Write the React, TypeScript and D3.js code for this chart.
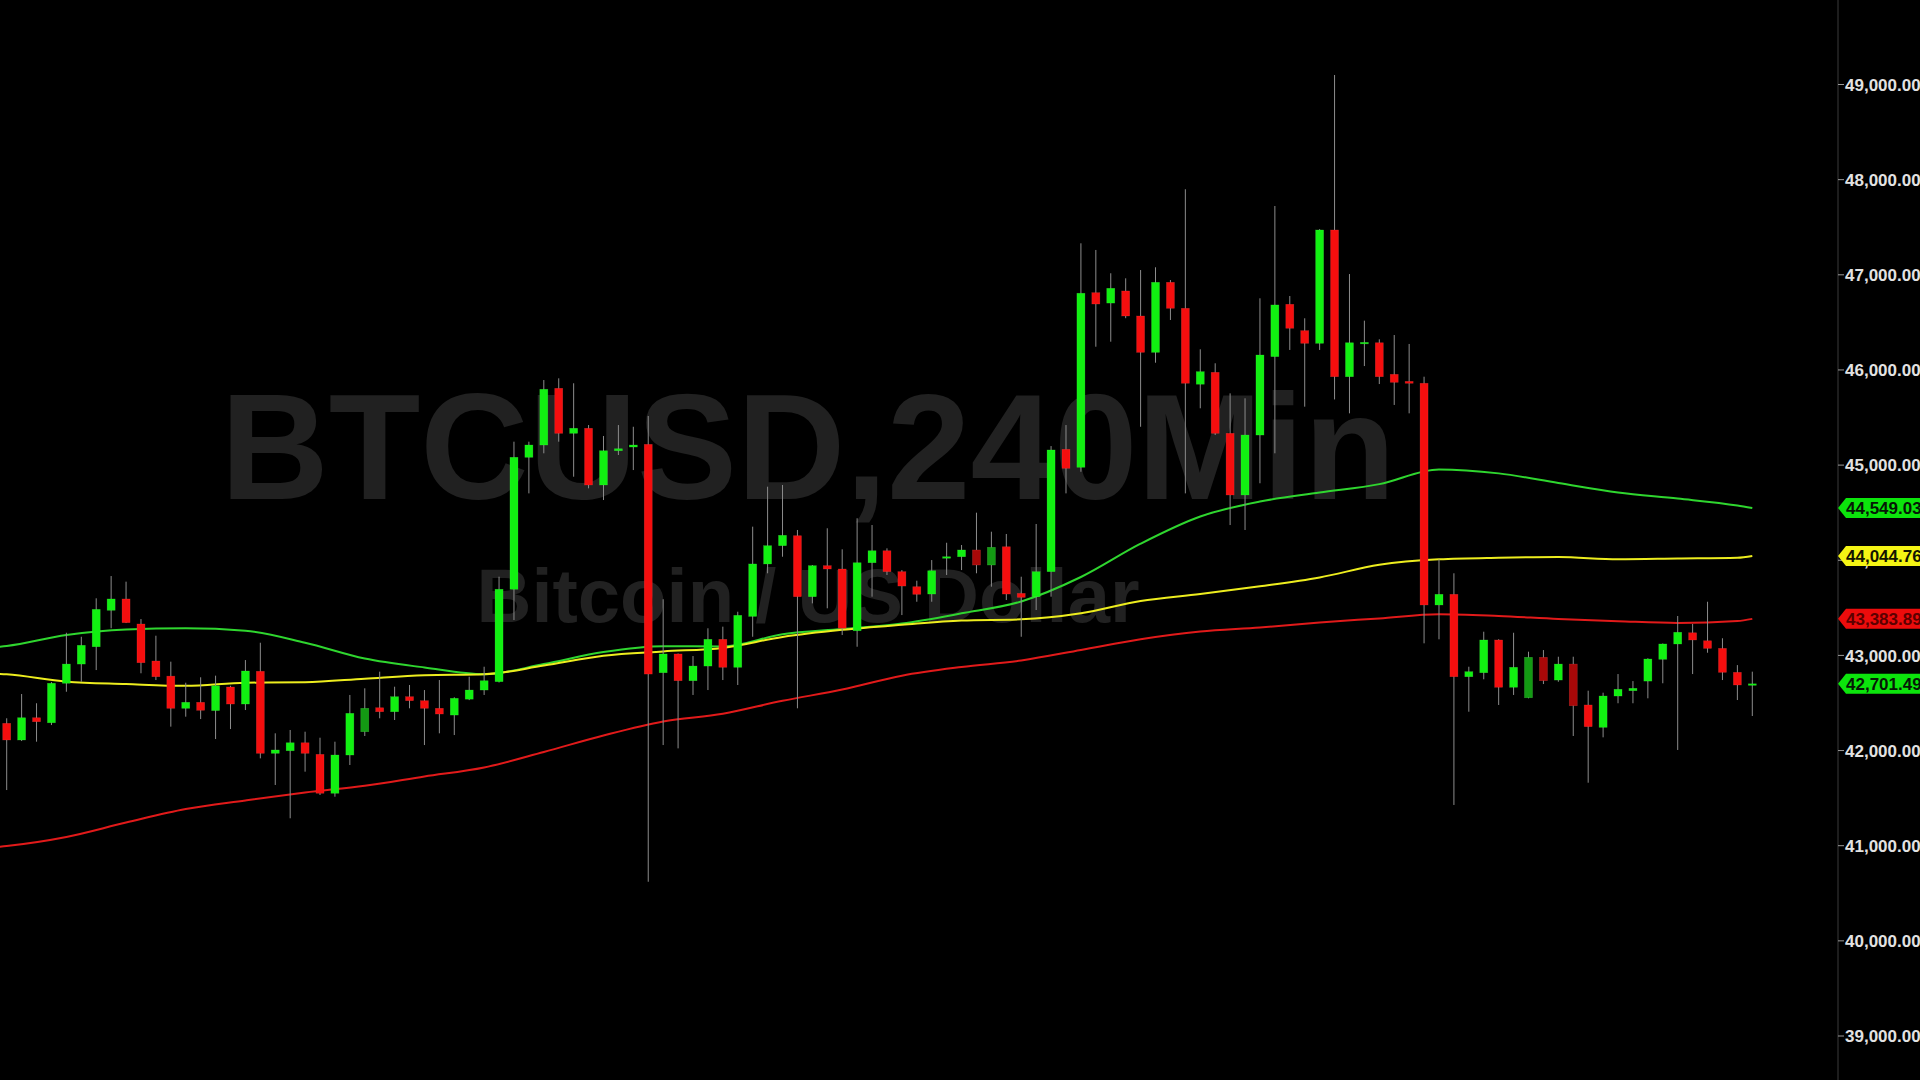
import React from "react";
import * as d3 from "d3";

const W = 1920;
const H = 1080;

// 4h candles
const opens = [
  42286, 42111, 42345, 42292, 42707, 42909, 43091, 43474, 43593, 43330,
  42941, 42782, 42444, 42507, 42420, 42668, 42489, 42833, 41971, 41998,
  42082, 41960, 41551, 41953, 42198, 42450, 42408, 42566, 42524, 42444,
  42373, 42540, 42636, 42724, 43695, 45082, 45211, 45807, 45334, 45387,
  44791, 45151, 45190, 45218, 42818, 43015, 42734, 42888, 43169, 42875,
  43410, 43961, 44153, 44258, 43617, 43943, 43908, 43259, 43974, 44100,
  43880, 43722, 43645, 44021, 44037, 44108, 43950, 44142, 43652, 43617,
  43880, 45166, 44977, 46812, 46703, 46830, 46567, 46185, 46921, 46648,
  45850, 45975, 45334, 44686, 45316, 46140, 46690, 46413, 46280, 47471,
  45929, 46280, 46286, 45954, 45880, 45860, 43530, 43642, 42776, 42818,
  43162, 42665, 42555, 42980, 42741, 42909, 42479, 42244, 42573, 42629,
  42730, 42959, 43120, 43238, 43154, 43074, 42822, 42690,
];
const highs = [
  42339, 42594, 42497, 42720, 43238, 43196, 43600, 43834, 43775, 43382,
  43207, 42934, 42713, 42770, 42787, 42681, 42951, 43133, 42181, 42216,
  42198, 42135, 42093, 42584, 42654, 42829, 42671, 42689, 42636, 42741,
  42560, 42776, 42881, 43827, 45246, 45246, 45894, 45912, 45860, 45421,
  45306, 45421, 45403, 45516, 43590, 43020, 42993, 43285, 43302, 43459,
  44353, 44773, 44791, 44318, 43950, 44336, 44115, 44441, 44370, 44125,
  43897, 43785, 44002, 44184, 44160, 44500, 44300, 44276, 43827, 44381,
  45200, 45421, 47331, 47261, 47016, 46963, 47050, 47079, 46945, 47899,
  46217, 46070, 45754, 45702, 46753, 47723, 46777, 46543, 47480, 49100,
  47008, 46518, 46322, 46367, 46273, 45929, 44010, 43863, 42881, 43249,
  43170, 43238, 43039, 43056, 42986, 42986, 42629, 42608, 42804, 42730,
  42970, 43125, 43414, 43330, 43564, 43180, 42898, 42829,
];
const lows = [
  41585, 42100, 42093, 42268, 42618, 42723, 42846, 43285, 43340, 42812,
  42741, 42251, 42356, 42331, 42121, 42226, 42426, 41918, 41638, 41288,
  41778, 41533, 41515, 41848, 42153, 42339, 42321, 42444, 42058, 42181,
  42163, 42530, 42584, 42715, 43372, 44703, 45124, 45246, 44878, 44756,
  44633, 45106, 44948, 40621, 42058, 42023, 42584, 42636, 42741, 42689,
  43196, 43863, 44037, 42444, 43547, 43495, 43214, 43091, 43617, 43845,
  43424, 43564, 43564, 43845, 43897, 43863, 43722, 43582, 43196, 43477,
  43617, 44703, 44930, 46244, 46297, 46544, 45403, 46076, 46525, 44703,
  45597, 45316, 44370, 44318, 44809, 45124, 46210, 45614, 46210, 45690,
  45544, 46041, 45852, 45632, 45544, 43127, 43169, 41428, 42408, 42749,
  42479, 42584, 42549, 42699, 42723, 42153, 41662, 42139, 42497, 42497,
  42549, 42707, 42006, 42804, 43028, 42741, 42531, 42363,
];
const closes = [
  42111, 42345, 42303, 42707, 42909, 43106, 43484, 43593, 43344, 42923,
  42776, 42444, 42507, 42423, 42681, 42489, 42836, 41971, 42006, 42082,
  41971, 41551, 41953, 42391, 42444, 42408, 42566, 42524, 42444, 42384,
  42549, 42636, 42734, 43695, 45082, 45211, 45797, 45334, 45387, 44791,
  45151, 45172, 45211, 42804, 43015, 42734, 42888, 43169, 42875, 43421,
  43961, 44153, 44262, 43617, 43943, 43908, 43285, 43974, 44100, 43880,
  43729, 43642, 43890, 44037, 44108, 43950, 44136, 43645, 43610, 43880,
  45159, 44966, 46806, 46693, 46858, 46567, 46185, 46921, 46648, 45860,
  45982, 45334, 44686, 45316, 46157, 46683, 46438, 46280, 47471, 45929,
  46286, 46290, 45929, 45870, 45860, 43530, 43642, 42776, 42829, 43162,
  42665, 42875, 42980, 42734, 42909, 42471, 42251, 42573, 42644, 42654,
  42962, 43120, 43243, 43162, 43074, 42822, 42689, 42701.49,
];
// candles drawn in the muted colour
const dimBars = [24, 65, 66, 102, 103, 105];

// moving averages, read at every 4th bar
const maIdx = [-1, 0, 4, 8, 12, 16, 20, 24, 28, 32, 36, 40, 44, 48, 52, 56, 60, 64, 68, 72, 76, 80, 84, 88, 92, 96, 100, 104, 108, 112, 116, 117];
const maFast = [43083, 43099, 43214, 43272, 43285, 43259, 43133, 42967, 42873, 42802, 42909, 43036, 43097, 43093, 43222, 43277, 43335, 43442, 43567, 43824, 44174, 44460, 44617, 44711, 44800, 44955, 44913, 44812, 44712, 44648, 44575, 44549.03];
const maMid = [42810, 42801, 42724, 42699, 42680, 42713, 42718, 42755, 42791, 42802, 42893, 42997, 43042, 43079, 43194, 43269, 43322, 43367, 43379, 43443, 43572, 43645, 43726, 43819, 43952, 44010, 44027, 44034, 44010, 44018, 44026, 44044.76];
const maSlow = [40981, 40997, 41092, 41243, 41385, 41475, 41559, 41631, 41728, 41822, 41985, 42158, 42305, 42387, 42523, 42641, 42787, 42878, 42947, 43057, 43170, 43251, 43293, 43346, 43389, 43433, 43414, 43383, 43360, 43341, 43361, 43383.89];

const yTicks = [39000, 40000, 41000, 42000, 43000, 44000, 45000, 46000, 47000, 48000, 49000];

const axisX = 1838;
const font = "'Liberation Sans', Arial, sans-serif";

export default function App() {
  const x = d3.scaleLinear().domain([0, opens.length - 1]).range([6.7, 1752.3]);
  const y = d3.scaleLinear().domain([39000, 49000]).range([1036, 84.5]);
  const fmt = d3.format(",.2f");
  const bw = 8;

  const maLine = (vals: number[]) =>
    d3
      .line<number>()
      .x((_, i) => x(maIdx[i]))
      .y((d) => y(d))
      .curve(d3.curveMonotoneX)(vals) || "";

  const lines = [
    { vals: maFast, color: "#2fd62f" },
    { vals: maMid, color: "#eded1e" },
    { vals: maSlow, color: "#e11a1a" },
  ];

  const tags = [
    { v: maFast[maFast.length - 1], fill: "#0ce40c", text: "#061806" },
    { v: maMid[maMid.length - 1], fill: "#f4f414", text: "#141400" },
    { v: maSlow[maSlow.length - 1], fill: "#ec0c0c", text: "#5c0000" },
    { v: closes[closes.length - 1], fill: "#0ce40c", text: "#061806" },
  ];

  return (
    <svg
      width={W}
      height={H}
      style={{ position: "fixed", left: 0, top: 0, background: "#000" }}
    >
      <rect width={W} height={H} fill="#000" />
      <clipPath id="plot">
        <rect x={0} y={0} width={axisX} height={H} />
      </clipPath>

      {/* watermark */}
      <text x={808} y={499} textAnchor="middle" fontFamily={font} fontWeight="bold" fontSize={150} fill="#212121">
        BTCUSD,240Min
      </text>
      <text x={808} y={622} textAnchor="middle" fontFamily={font} fontWeight="bold" fontSize={76} fill="#212121">
        Bitcoin / US Dollar
      </text>

      <g clipPath="url(#plot)">
        {lines.map((l, k) => (
          <path key={k} d={maLine(l.vals)} fill="none" stroke={l.color} strokeWidth={2} />
        ))}

        {opens.map((o, i) => {
          const c = closes[i];
          const up = c >= o;
          const dim = dimBars.includes(i);
          const fill = up ? (dim ? "#139a13" : "#11f011") : dim ? "#a80808" : "#f50e0e";
          const top = y(Math.max(o, c));
          const bot = y(Math.min(o, c));
          const cx = x(i);
          return (
            <g key={i}>
              <line x1={cx} x2={cx} y1={y(highs[i])} y2={y(lows[i])} stroke="#8c8c8c" strokeWidth={1} />
              <rect
                x={cx - bw / 2}
                y={top}
                width={bw}
                height={Math.max(bot - top, 1.5)}
                fill={fill}
                stroke={up ? "#55ff55" : "#ff5555"}
                strokeOpacity={0.35}
                strokeWidth={0.6}
              />
            </g>
          );
        })}
      </g>

      {/* price axis */}
      <line x1={axisX} x2={axisX} y1={0} y2={H} stroke="#3a3a3a" strokeWidth={1} />
      {yTicks.map((t) => (
        <g key={t}>
          <line x1={axisX} x2={axisX + 6} y1={y(t)} y2={y(t)} stroke="#9a9a9a" />
          <text x={1845} y={y(t)} dy="0.36em" fontFamily={font} fontWeight="bold" fontSize={17} fill="#e2e2e2">
            {fmt(t)}
          </text>
        </g>
      ))}

      {tags.map((t, k) => {
        const ty = y(t.v);
        return (
          <g key={k}>
            <path
              d={`M${axisX},${ty} L${axisX + 8},${ty - 10} L${W},${ty - 10} L${W},${ty + 10} L${axisX + 8},${ty + 10} Z`}
              fill={t.fill}
            />
            <text x={1846} y={ty} dy="0.36em" fontFamily={font} fontWeight="bold" fontSize={17} fill={t.text}>
              {fmt(t.v)}
            </text>
          </g>
        );
      })}
    </svg>
  );
}
